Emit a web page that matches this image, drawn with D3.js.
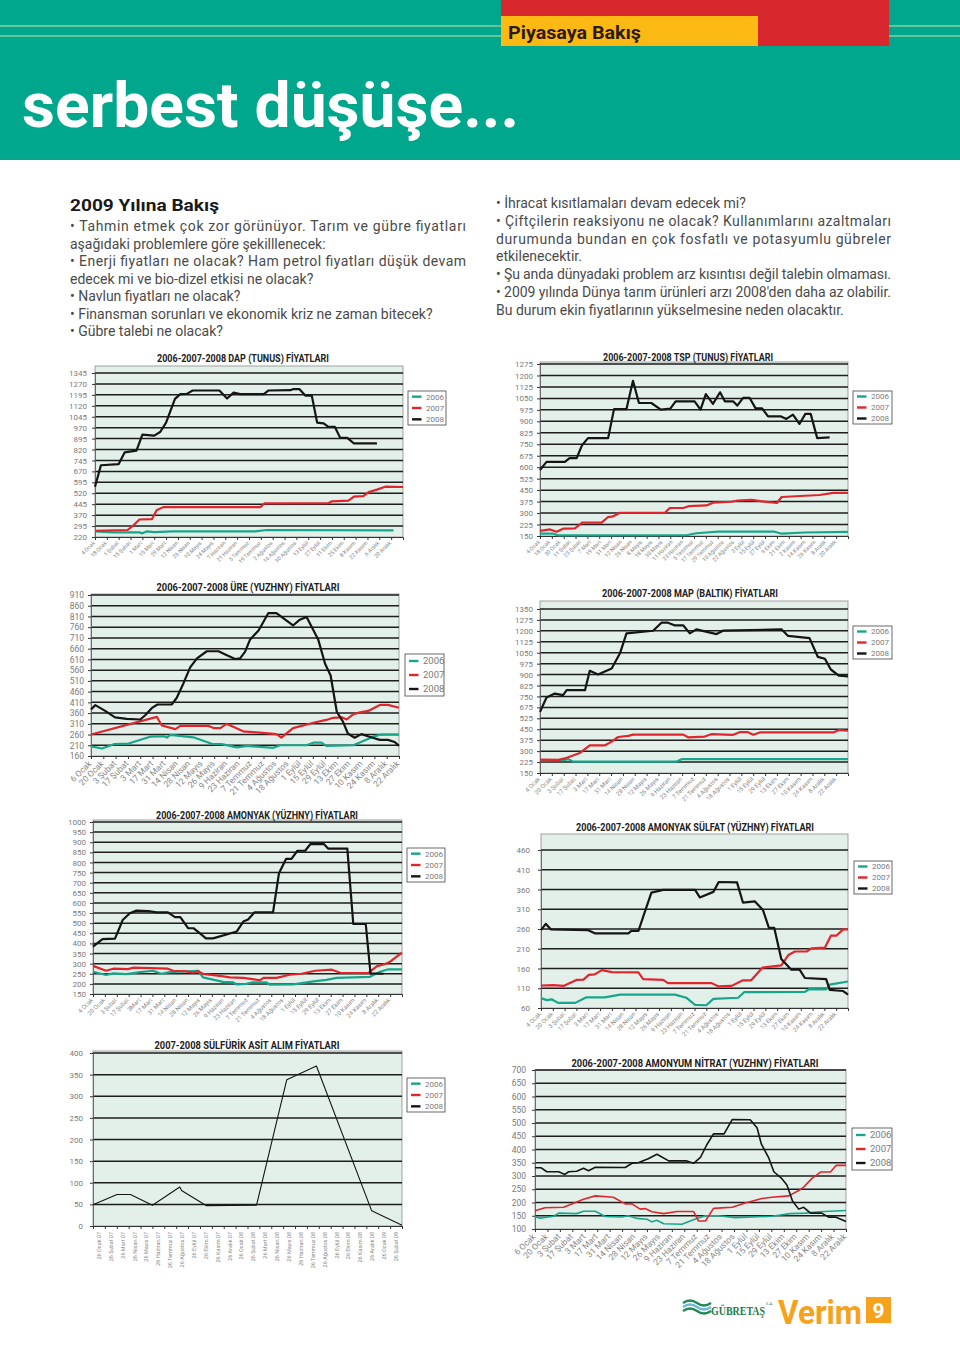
<!DOCTYPE html>
<html><head><meta charset="utf-8">
<script src="https://cdn.jsdelivr.net/npm/d3@7"></script>
<style>body{margin:0;background:#fff}svg{display:block}</style>
</head><body>
<svg id="page" width="960" height="1358"></svg>
<script>
// ---------------- DATA ----------------
const years = ["2006", "2007", "2008"];

const dapTicks = [220,295,370,445,520,595,670,745,820,895,970,1045,1120,1195,1270,1345];
const dapLabels = ["4 Ocak","18 Ocak","1 Şubat","15 Şubat","1 Mart","15 Mart","29 Mart","12 Nisan","26 Nisan","10 Mayıs","24 Mayıs","7 Haziran","21 Haziran","5 Temmuz","19 Temmuz","2 Ağustos","16 Ağustos","30 Ağustos","13 Eylül","27 Eylül","11 Ekim","25 Ekim","8 Kasım","22 Kasım","6 Aralık","20 Aralık"];
const dap2006 = [[0,258],[3,252],[7.5,252],[8,245],[8.7,258],[10,253],[13,258],[27,258],[29,268],[50.4,266]];
const dap2007 = [[0,263],[5.5,268],[6.5,300],[7.5,340],[9.6,342],[10.4,403],[11.5,425],[27.9,425],[28.6,450],[39.4,452],[40,465],[42.8,470],[43.7,497],[45.3,500],[46.2,528],[47.6,545],[49,565],[52,563]];
const dap2008 = [[0,565],[1,712],[4,720],[5,800],[7,812],[8,922],[10,915],[11,940],[12,1005],[13.5,1168],[14.4,1200],[15.5,1202],[16.5,1225],[21,1225],[22.3,1170],[23.4,1210],[24.5,1200],[28.5,1200],[29.3,1225],[33,1227],[33.5,1235],[34.5,1235],[35.5,1190],[36.6,1190],[37.5,1005],[38.6,1000],[39.4,975],[40.5,975],[41.4,900],[42.6,900],[43.7,862],[47.6,862]];

const tspTicks = [150,225,300,375,450,525,600,675,750,825,900,975,1050,1125,1200,1275];
const tspLabels = ["4 Ocak","18 Ocak","30 Ocak","11 Şubat","23 Şubat","7 Mart","19 Mart","31 Mart","12 Nisan","26 Nisan","8 Mayıs","18 Mayıs","30 Mayıs","11 Haziran","23 Haziran","5 Temmuz","17 Temmuz","29 Temmuz","10 Ağustos","22 Ağustos","3 Eylül","15 Eylül","27 Eylül","9 Ekim","21 Ekim","2 Kasım","14 Kasım","26 Kasım","8 Aralık","20 Aralık"];
const tsp2006 = [[0,166],[2.3,165],[3.1,154],[24.7,155],[26.4,168],[30.1,178],[39.6,178],[40.8,165],[44.7,173],[52,177]];
const tsp2007 = [[0,183],[1.7,193],[2.8,178],[3.9,198],[5.9,200],[7.1,237],[10.4,237],[11.5,274],[12.3,278],[13.5,302],[21.1,302],[21.9,333],[24.2,333],[25.2,346],[28.1,350],[29.2,368],[32.3,374],[33.4,382],[35.7,386],[37.9,375],[40,366],[40.8,405],[47.2,418],[49.5,432],[52,432]];
const tsp2008 = [[0,582],[1.1,635],[4.2,635],[5,660],[6.2,660],[7.1,744],[8.1,790],[11.5,790],[12.5,980],[14.6,980],[15.7,1165],[16.7,1020],[18.8,1020],[20.4,977],[22,983],[22.9,1031],[26.1,1031],[27.1,977],[28,1078],[29.2,1014],[30.4,1090],[31.2,1031],[32.6,1031],[33.3,1003],[34.3,1053],[35.4,1053],[36.4,985],[37.5,985],[38.5,933],[40.6,933],[41.6,916],[42.7,944],[43.8,883],[44.8,949],[45.7,949],[46.8,790],[48.9,795]];

const ureTicks = [160,210,260,310,360,410,460,510,560,610,660,710,760,810,860,910];
const ureLabels = ["6 Ocak","20 Ocak","3 Şubat","17 Şubat","3 Mart","17 Mart","31 Mart","14 Nisan","28 Nisan","12 Mayıs","26 Mayıs","9 Haziran","23 Haziran","7 Temmuz","21 Temmuz","4 Ağustos","18 Ağustos","1 Eylül","15 Eylül","29 Eylül","13 Ekim","27 Ekim","10 Kasım","24 Kasım","8 Aralık","22 Aralık"];
const ure2006 = [[0,205],[1.8,195],[3.7,215],[6.1,218],[9.6,250],[11.8,252],[12.3,246],[12.9,258],[16.6,247],[19.6,217],[21.2,215],[23.7,200],[25.3,207],[29.6,198],[30.7,210],[35,210],[36.1,222],[37.4,222],[38.2,207],[42.6,210],[45.8,250],[47.1,260],[50,260]];
const ure2007 = [[0,260],[10.7,342],[11.5,302],[13.7,285],[14.5,300],[19.1,300],[19.9,290],[21,290],[22,310],[24.7,275],[30.1,262],[30.9,246],[32.8,290],[36.1,315],[38.2,328],[39.3,338],[40.7,340],[41.5,330],[42.6,355],[43.9,365],[45,370],[46.9,398],[48.2,398],[50,385]];
const ure2008 = [[0,377],[0.7,397],[2.3,370],[3.9,340],[5.8,333],[8,330],[8.8,350],[9.9,384],[10.8,400],[13.1,400],[13.9,430],[15,498],[16.1,573],[17.2,615],[18.8,648],[20.7,648],[21.8,633],[23.4,612],[24.2,615],[25,645],[25.8,701],[27.2,745],[28.8,826],[30.1,826],[32.8,768],[33.9,795],[35,808],[36.9,701],[38,590],[38.9,535],[39.9,366],[40.9,320],[41.7,265],[42.8,245],[43.9,262],[45.2,250],[46.9,235],[48.2,235],[49.3,225],[50,207]];

const mapTicks = [150,225,300,375,450,525,675,750,825,900,975,1050,1125,1200,1275,1350];
const mapLabels = ["4 Ocak","20 Ocak","3 Şubat","17 Şubat","3 Mart","17 Mart","31 Mart","14 Nisan","28 Nisan","12 Mayıs","26 Mayıs","9 Haziran","23 Haziran","7 Temmuz","21 Temmuz","4 Ağustos","18 Ağustos","1 Eylül","15 Eylül","29 Eylül","13 Ekim","27 Ekim","10 Kasım","24 Kasım","8 Aralık","22 Aralık"];
const map2006 = [[0,236],[4.2,240],[4.8,245],[5.6,228],[23,228],[23.9,245],[52,245]];
const map2007 = [[0,242],[3.1,240],[4.2,250],[6.7,287],[8.4,340],[11,340],[12.1,365],[13.2,397],[14.9,405],[15.7,413],[24.2,413],[25,395],[27.8,400],[28.9,416],[32.6,412],[33.7,430],[35.1,430],[36,412],[37.1,428],[49.5,428],[50.5,445],[52,440]];
const map2008 = [[0,614],[1.1,743],[2.5,770],[3.9,759],[4.5,793],[7.6,793],[8.4,926],[9.8,901],[12.1,942],[13.5,1046],[14.6,1183],[19.1,1201],[20.5,1256],[21.6,1256],[22.8,1237],[24.2,1237],[25.3,1183],[26.4,1210],[29.8,1178],[30.9,1201],[40.8,1210],[41.9,1165],[45.5,1150],[46.9,1022],[48.1,1009],[49.1,935],[50.5,892],[52,888]];

const amoTicks = [150,200,250,300,350,400,450,500,550,600,650,700,750,800,850,900,950,1000];
const amoLabels = ["4 Ocak","20 Ocak","3 Şubat","17 Şubat","3Mart","17 Mart","31 Mart","14 Nisan","28 Nisan","12 Mayıs","26 Mayıs","9 Haziran","23 Haziran","7 Temmuz","21 Temmuz","4 Ağustos","18 Ağustos","1 Eylül","15 Eylül","29 Eylül","13 Ekim","27 Ekim","10 Kasım","24 Kasım","8 Aralık","22 Aralık"];
const amo2006 = [[0,260],[2.2,244],[3.4,252],[5.6,248],[7.9,258],[10.1,265],[11.5,250],[12.9,258],[17.7,265],[18.5,232],[21.9,210],[23.6,207],[24.2,197],[25.8,200],[26.9,208],[29.2,207],[29.8,196],[33.7,198],[37.1,212],[39.3,220],[41,230],[46.6,235],[48.3,260],[49.7,272],[52,272]];
const amo2007 = [[0,289],[2.2,265],[3.4,275],[5.9,273],[6.7,280],[12.6,275],[13.5,265],[15.7,262],[16.9,255],[17.7,262],[18.5,249],[21.3,240],[23,232],[25.3,230],[28.1,218],[28.7,230],[30.9,230],[33.1,245],[35.1,250],[37.4,265],[40.2,270],[41.6,255],[46.3,253],[47.8,288],[49.2,298],[50,310],[52,355]];
const amo2008 = [[0,384],[1.6,421],[3.7,424],[4.5,480],[5,516],[6.2,549],[7.3,562],[9.3,560],[10.7,553],[12.6,553],[13.8,530],[14.7,530],[16,475],[16.9,475],[18,450],[19,425],[20.2,425],[24.2,459],[25.3,508],[26.1,518],[27.2,554],[30.3,554],[31.3,747],[32.5,818],[33.4,818],[34.4,858],[35.7,858],[36.6,891],[38.8,892],[39.6,868],[42.8,868],[43.8,496],[45.9,496],[46.7,252],[48.9,250]];

const sulTicks = [60,110,160,210,260,310,360,410,460];
const sulLabels = ["4 Ocak","20 Ocak","3 Şubat","17 Şubat","3 Mart","17 Mart","31 Mart","14 Nisan","28 Nisan","12 Mayıs","26 Mayıs","9 Haziran","23 Haziran","7 Temmuz","21 Temmuz","4 Ağustos","18 Ağustos","1 Eylül","15 Eylül","29 Eylül","13 Ekim","27 Ekim","10 Kasım","24 Kasım","8 Aralık","22 Aralık"];
const sul2006 = [[0,85],[1,80],[1.8,82],[2.9,73],[5.8,73],[7.7,87],[10.8,87],[13.4,94],[22.7,94],[24.6,86],[26.1,68],[28,67],[29.2,83],[33.4,86],[34.4,100],[44.7,101],[45.5,108],[48.3,107],[48.9,119],[52,127]];
const sul2007 = [[0,117],[2.1,118],[3.8,116],[6,131],[7.2,132],[8.1,144],[9.1,145],[10.3,156],[12,151],[16.5,150],[17.3,133],[20.7,131],[21.5,123],[28.9,123],[30,115],[32.3,116],[34.2,130],[35.6,130],[37.5,162],[40.7,168],[41.9,194],[43,203],[45,203],[45.8,211],[48.1,213],[49.1,243],[50,243],[51.2,259],[52,259]];
const sul2008 = [[0,257],[0.8,273],[1.7,259],[8,257],[9.1,249],[14.8,249],[15.3,255],[16.5,255],[17.6,304],[18.7,352],[20.7,359],[26.1,359],[26.9,340],[29.2,354],[30.1,379],[33.2,378],[34.2,327],[36.2,330],[37.6,308],[38.6,263],[39.5,263],[40.7,184],[42.4,157],[43.8,157],[44.7,136],[48.3,133],[48.9,106],[51.2,103],[52,94]];

const asitTicks = [0,50,100,150,200,250,300,350,400];
const asitLabels = ["26 Ocak 07","26 Şubat 07","26 Mart 07","26 Nisan 07","26 Mayıs 07","26 Haziran 07","26 Temmuz 07","26 Ağustos 07","26 Eylül 07","26 Ekim 07","26 Kasım 07","26 Aralık 07","26 Ocak 08","26 Şubat 08","26 Mart 08","26 Nisan 08","26 Mayıs 08","26 Haziran 08","26 Temmuz 08","26 Ağustos 08","26 Eylül 08","26 Ekim 08","26 Kasım 08","26 Aralık 08","26 Ocak 09","26 Şubat 09"];
const asit2008 = [[0,49],[2.02,73],[3.15,73],[5,48],[7.3,90],[7.45,82],[9.55,47],[13.76,48],[16.3,338],[18.8,370],[23.45,35],[26,2]];

const nitTicks = [100,150,200,250,300,350,400,450,500,550,600,650,700];
const nitLabels = ["6 Ocak","20 Ocak","3 Şubat","17 Şubat","3 Mart","17 Mart","31 Mart","14 Nisan","28 Nisan","12 Mayıs","26 Mayıs","9 Haziran","23 Haziran","7 Temmuz","21 Temmuz","4 Ağustos","18 Ağustos","1 Eylül","15 Eylül","29 Eylül","13 Ekim","27 Ekim","10 Kasım","24 Kasım","8 Aralık","22 Aralık"];
const nit2006 = [[0,146],[0.8,141],[3,148],[3.8,160],[6.7,158],[7.8,167],[9.7,167],[11.3,147],[13.9,145],[15,150],[16.4,140],[18,137],[18.8,127],[19.6,133],[20.7,120],[23.6,118],[26,140],[27.4,150],[29.5,150],[32.2,143],[38.1,148],[41,158],[43.5,160],[45.6,165],[50,170]];
const nit2007 = [[0,169],[1.6,180],[4.6,182],[7.8,212],[9.7,225],[12.6,220],[14.5,195],[15.6,195],[16.9,175],[17.7,177],[18.8,165],[20.7,158],[22.8,166],[25.5,166],[26.3,130],[27.4,130],[28.7,178],[31.7,182],[33.8,198],[36.5,215],[38.1,220],[40.8,225],[42.4,245],[43.2,258],[44.5,290],[45.9,315],[47.5,315],[48.4,340],[50,340]];
const nit2008 = [[0,331],[1,331],[1.9,316],[3.8,316],[4.8,306],[5.4,316],[6.7,318],[7.8,329],[8.6,320],[9.7,333],[14.5,332],[15.6,348],[16.6,350],[18.2,365],[19.6,382],[21.5,357],[24.4,357],[25.5,348],[26.6,370],[27.6,417],[28.7,459],[30.4,459],[31.7,513],[34.6,512],[35.7,482],[36.4,420],[37.6,367],[38.4,316],[39.7,290],[40.5,266],[41.4,206],[42.4,175],[43.2,182],[44.3,160],[46.1,160],[47.2,145],[48.3,145],[50,128]];

// ---------------- STYLE / LAYOUT ----------------
const COLORS = {"2006": "#17a68b", "2007": "#e1252d", "2008": "#151515"};
const FONT = "Roboto, 'Open Sans', sans-serif";
const svg = d3.select("#page");

// Header
svg.append("rect").attr("x",0).attr("y",0).attr("width",960).attr("height",160).attr("fill","#00a78d");
[26,36].forEach(yy => svg.append("line").attr("x1",0).attr("x2",960).attr("y1",yy).attr("y2",yy).attr("stroke","#bfe6a2").attr("stroke-width",1));
svg.append("rect").attr("x",501).attr("y",0).attr("width",388).attr("height",46).attr("fill","#d7282e");
svg.append("rect").attr("x",501).attr("y",16).attr("width",257).attr("height",30).attr("fill","#fdb913");
svg.append("text").attr("x",508).attr("y",39).text("Piyasaya Bakış")
  .attr("font-family",FONT).attr("font-weight","bold").attr("font-size",19).attr("fill","#2b1b12")
  .attr("textLength",133).attr("lengthAdjust","spacingAndGlyphs");
svg.append("text").attr("x",22).attr("y",127).text("serbest düşüşe...")
  .attr("font-family",FONT).attr("font-weight","bold").attr("font-size",63).attr("fill","#fff")
  .attr("textLength",497).attr("lengthAdjust","spacingAndGlyphs");

// Body text
const leftLines = [
  ["• Tahmin etmek çok zor görünüyor. Tarım ve gübre fiyatları", 396],
  ["aşağıdaki problemlere göre şekilllenecek:", 0],
  ["• Enerji fiyatları ne olacak? Ham petrol fiyatları düşük devam", 396],
  ["edecek mi ve bio-dizel etkisi ne olacak?", 0],
  ["• Navlun fiyatları ne olacak?", 0],
  ["• Finansman sorunları ve ekonomik kriz ne zaman bitecek?", 0],
  ["• Gübre talebi ne olacak?", 0]
];
const rightLines = [
  ["• İhracat kısıtlamaları devam edecek mi?", 0],
  ["• Çiftçilerin reaksiyonu ne olacak? Kullanımlarını azaltmaları", 395],
  ["durumunda bundan en çok fosfatlı ve potasyumlu gübreler", 395],
  ["etkilenecektir.", 0],
  ["• Şu anda dünyadaki problem arz kısıntısı değil talebin olmaması.", 395],
  ["• 2009 yılında Dünya tarım ürünleri arzı 2008'den daha az olabilir.", 395],
  ["Bu durum ekin fiyatlarının yükselmesine neden olacaktır.", 0]
];
svg.append("text").attr("x",70).attr("y",211).text("2009 Yılına Bakış")
  .attr("font-family",FONT).attr("font-weight","bold").attr("font-size",16.5).attr("fill","#1a1a1a")
  .attr("textLength",149).attr("lengthAdjust","spacingAndGlyphs");
function bodyLines(lines, x0, y0, step) {
  lines.forEach((l, i) => {
    const t = svg.append("text").attr("x", x0).attr("y", y0 + i * step).text(l[0])
      .attr("font-family", FONT).attr("font-weight", 400).attr("font-size", 14).attr("fill", "#4a4a4a");
    if (l[1]) t.attr("textLength", l[1]).attr("lengthAdjust", "spacing");
  });
}
bodyLines(leftLines, 70, 231, 17.5);
bodyLines(rightLines, 496, 208, 17.8);

// ---------------- CHART ----------------
function drawChart(cfg, ticks, labels, series) {
  const g = svg.append("g");
  const x = d3.scaleLinear().domain([0, cfg.xN]).range([cfg.left, cfg.right]);
  const step = (cfg.bottom - cfg.topTick) / (ticks.length - 1);
  const y = d3.scaleLinear().domain(ticks).range(ticks.map((t, i) => cfg.bottom - i * step));

  g.append("rect").attr("x", cfg.left).attr("y", cfg.top)
    .attr("width", cfg.right - cfg.left).attr("height", cfg.bottom - cfg.top)
    .attr("fill", "#e3f0e9").attr("stroke", "#8c8c8c").attr("stroke-width", 0.8);

  g.append("g").selectAll("line").data(ticks.slice(1)).join("line")
    .attr("x1", cfg.left).attr("x2", cfg.right)
    .attr("y1", d => y(d)).attr("y2", d => y(d))
    .attr("stroke", "#1d1d1d").attr("stroke-width", 1.5);

  const ya = g.append("g").attr("transform", `translate(${cfg.left},0)`)
    .call(d3.axisLeft(y).tickValues(ticks).tickSize(3).tickPadding(cfg.yPad).tickFormat(d => d));
  ya.select(".domain").attr("stroke", "#555").attr("stroke-width", 0.8);
  ya.selectAll(".tick line").attr("stroke", "#333");
  ya.selectAll("text").attr("fill", "#7a7a7a").attr("font-size", cfg.yFont).attr("font-family", FONT);

  const xa = g.append("g").attr("transform", `translate(0,${cfg.bottom})`)
    .call(d3.axisBottom(x).tickValues(cfg.xTicks).tickSize(3).tickFormat(""));
  xa.select(".domain").attr("stroke", "#333").attr("stroke-width", 1);
  xa.selectAll(".tick line").attr("stroke", "#333");

  g.append("g").selectAll("text").data(labels).join("text")
    .attr("transform", (d, i) => `translate(${x(cfg.labelPos(i)) + cfg.lblDx},${cfg.bottom + cfg.lblDy}) rotate(${cfg.rot})`)
    .attr("text-anchor", "end").attr("dy", "0.35em")
    .attr("font-family", FONT).attr("font-size", cfg.xFont).attr("fill", "#888")
    .text(d => d);

  const line = d3.line().x(d => x(d[0])).y(d => y(d[1]));
  series.forEach(s => {
    if (!s.data) return;
    g.append("path").attr("d", line(s.data)).attr("fill", "none")
      .attr("stroke", COLORS[s.year]).attr("stroke-width", cfg.lw)
      .attr("stroke-linejoin", "round");
  });

  g.append("text").attr("x", cfg.titleX).attr("y", cfg.titleY).text(cfg.title)
    .attr("text-anchor", "middle").attr("font-family", FONT).attr("font-weight", "bold")
    .attr("font-size", 10).attr("fill", "#222")
    .attr("textLength", cfg.titleW).attr("lengthAdjust", "spacingAndGlyphs");

  const [lx, ly, lw, lh] = cfg.legend;
  const lg = g.append("g").attr("transform", `translate(${lx},${ly})`);
  lg.append("rect").attr("width", lw).attr("height", lh).attr("fill", "#fff")
    .attr("stroke", "#444").attr("stroke-width", 0.8);
  const rh = lh / 3;
  years.forEach((yr, i) => {
    const cy = rh * (i + 0.5);
    lg.append("line").attr("x1", 4).attr("x2", 13.5).attr("y1", cy).attr("y2", cy)
      .attr("stroke", COLORS[yr]).attr("stroke-width", 2.4);
    lg.append("text").attr("x", 18).attr("y", cy).attr("dy", "0.36em").text(yr)
      .attr("font-family", FONT).attr("font-size", cfg.legFont).attr("fill", "#7a7a7a");
  });
}

const even = n => d3.range(0, n + 1, 2);

drawChart({title: "2006-2007-2008 DAP (TUNUS) FİYATLARI", titleX: 243, titleY: 362, titleW: 172,
  left: 95, right: 403, top: 366, topTick: 373, bottom: 537, xN: 52,
  xTicks: even(50), labelPos: i => i * 2, lblDx: -1, lblDy: 5, rot: -45, xFont: 5.5,
  yFont: 8, yPad: 5, lw: 2.2, legend: [408, 391, 38, 34], legFont: 8},
  dapTicks, dapLabels,
  [{year: "2006", data: dap2006}, {year: "2007", data: dap2007}, {year: "2008", data: dap2008}]);

drawChart({title: "2006-2007-2008 TSP (TUNUS) FİYATLARI", titleX: 688, titleY: 361, titleW: 170,
  left: 540, right: 848, top: 362, topTick: 364, bottom: 536, xN: 52,
  xTicks: even(50), labelPos: i => i * 50 / 29, lblDx: -1, lblDy: 5, rot: -45, xFont: 5.5,
  yFont: 8, yPad: 4, lw: 2.2, legend: [853, 391, 39, 33], legFont: 8},
  tspTicks, tspLabels,
  [{year: "2006", data: tsp2006}, {year: "2007", data: tsp2007}, {year: "2008", data: tsp2008}]);

drawChart({title: "2006-2007-2008 ÜRE (YUZHNY) FİYATLARI", titleX: 248, titleY: 591, titleW: 183,
  left: 91, right: 399, top: 594, topTick: 595, bottom: 756, xN: 50,
  xTicks: even(50), labelPos: i => i * 2, lblDx: -1, lblDy: 6, rot: -45, xFont: 8.5,
  yFont: 8.5, yPad: 4, lw: 2.2, legend: [405, 654, 39, 42], legFont: 9.5},
  ureTicks, ureLabels,
  [{year: "2006", data: ure2006}, {year: "2007", data: ure2007}, {year: "2008", data: ure2008}]);

drawChart({title: "2006-2007-2008 MAP (BALTIK) FİYATLARI", titleX: 690, titleY: 597, titleW: 176,
  left: 540, right: 848, top: 601, topTick: 609, bottom: 773, xN: 52,
  xTicks: even(50), labelPos: i => i * 2, lblDx: -1, lblDy: 5, rot: -45, xFont: 6,
  yFont: 8, yPad: 4, lw: 2.2, legend: [853, 626, 39, 33], legFont: 8},
  mapTicks, mapLabels,
  [{year: "2006", data: map2006}, {year: "2007", data: map2007}, {year: "2008", data: map2008}]);

drawChart({title: "2006-2007-2008 AMONYAK (YÜZHNY) FİYATLARI", titleX: 257, titleY: 819, titleW: 202,
  left: 93, right: 402, top: 820, topTick: 822, bottom: 994, xN: 52,
  xTicks: even(50), labelPos: i => i * 2, lblDx: -1, lblDy: 5, rot: -45, xFont: 6,
  yFont: 8, yPad: 4, lw: 2.2, legend: [407, 848, 38, 34], legFont: 8},
  amoTicks, amoLabels,
  [{year: "2006", data: amo2006}, {year: "2007", data: amo2007}, {year: "2008", data: amo2008}]);

drawChart({title: "2006-2007-2008 AMONYAK SÜLFAT (YÜZHNY) FİYATLARI", titleX: 695, titleY: 831, titleW: 238,
  left: 541, right: 848, top: 834, topTick: 850, bottom: 1008, xN: 52,
  xTicks: even(50), labelPos: i => i * 2, lblDx: -1, lblDy: 5, rot: -45, xFont: 6,
  yFont: 8, yPad: 8, lw: 2.2, legend: [854, 861, 38, 33], legFont: 8},
  sulTicks, sulLabels,
  [{year: "2006", data: sul2006}, {year: "2007", data: sul2007}, {year: "2008", data: sul2008}]);

drawChart({title: "2007-2008  SÜLFÜRİK ASİT ALIM  FİYATLARI", titleX: 247, titleY: 1049, titleW: 185,
  left: 93, right: 402, top: 1051, topTick: 1053, bottom: 1226, xN: 26,
  xTicks: d3.range(0, 27), labelPos: i => i + 0.5, lblDx: 0, lblDy: 6, rot: -90, xFont: 5.5,
  yFont: 8, yPad: 7, lw: 1.1, legend: [407, 1078, 38, 34], legFont: 8},
  asitTicks, asitLabels,
  [{year: "2006", data: null}, {year: "2007", data: null}, {year: "2008", data: asit2008}]);

drawChart({title: "2006-2007-2008 AMONYUM NİTRAT (YUZHNY) FİYATLARI", titleX: 695, titleY: 1067, titleW: 247,
  left: 535, right: 846, top: 1070, topTick: 1070, bottom: 1229, xN: 50,
  xTicks: even(50), labelPos: i => i * 2, lblDx: -1, lblDy: 6, rot: -45, xFont: 8.5,
  yFont: 8.5, yPad: 6, lw: 1.6, legend: [852, 1128, 40, 42], legFont: 9.5},
  nitTicks, nitLabels,
  [{year: "2006", data: nit2006}, {year: "2007", data: nit2007}, {year: "2008", data: nit2008}]);

// ---------------- FOOTER LOGO ----------------
const logo = svg.append("g");
[0, 4, 8].forEach((o, i) => {
  logo.append("path")
    .attr("d", `M683,${1303 + o} q7,-5 14,0 t14,0`)
    .attr("fill", "none").attr("stroke", i === 1 ? "#6fb8d8" : "#1f8a55").attr("stroke-width", 2.4);
});
logo.append("text").attr("x", 711).attr("y", 1315).text("GÜBRETAŞ")
  .attr("font-family", "'Liberation Serif', serif").attr("font-weight", "bold").attr("font-size", 12)
  .attr("fill", "#1b7d4d").attr("textLength", 54).attr("lengthAdjust", "spacingAndGlyphs");
logo.append("text").attr("x", 766).attr("y", 1305).text("S.A.")
  .attr("font-family", FONT).attr("font-size", 4).attr("fill", "#1b7d4d");
logo.append("text").attr("x", 778).attr("y", 1324).text("Verim")
  .attr("font-family", FONT).attr("font-weight", "bold").attr("font-size", 34).attr("fill", "#f6a21c")
  .attr("textLength", 84).attr("lengthAdjust", "spacingAndGlyphs");
logo.append("rect").attr("x", 866).attr("y", 1297).attr("width", 25).attr("height", 26).attr("fill", "#f6a21c");
logo.append("text").attr("x", 878.5).attr("y", 1318).text("9").attr("text-anchor", "middle")
  .attr("font-family", FONT).attr("font-weight", "bold").attr("font-size", 21).attr("fill", "#fff");
</script>
</body></html>
